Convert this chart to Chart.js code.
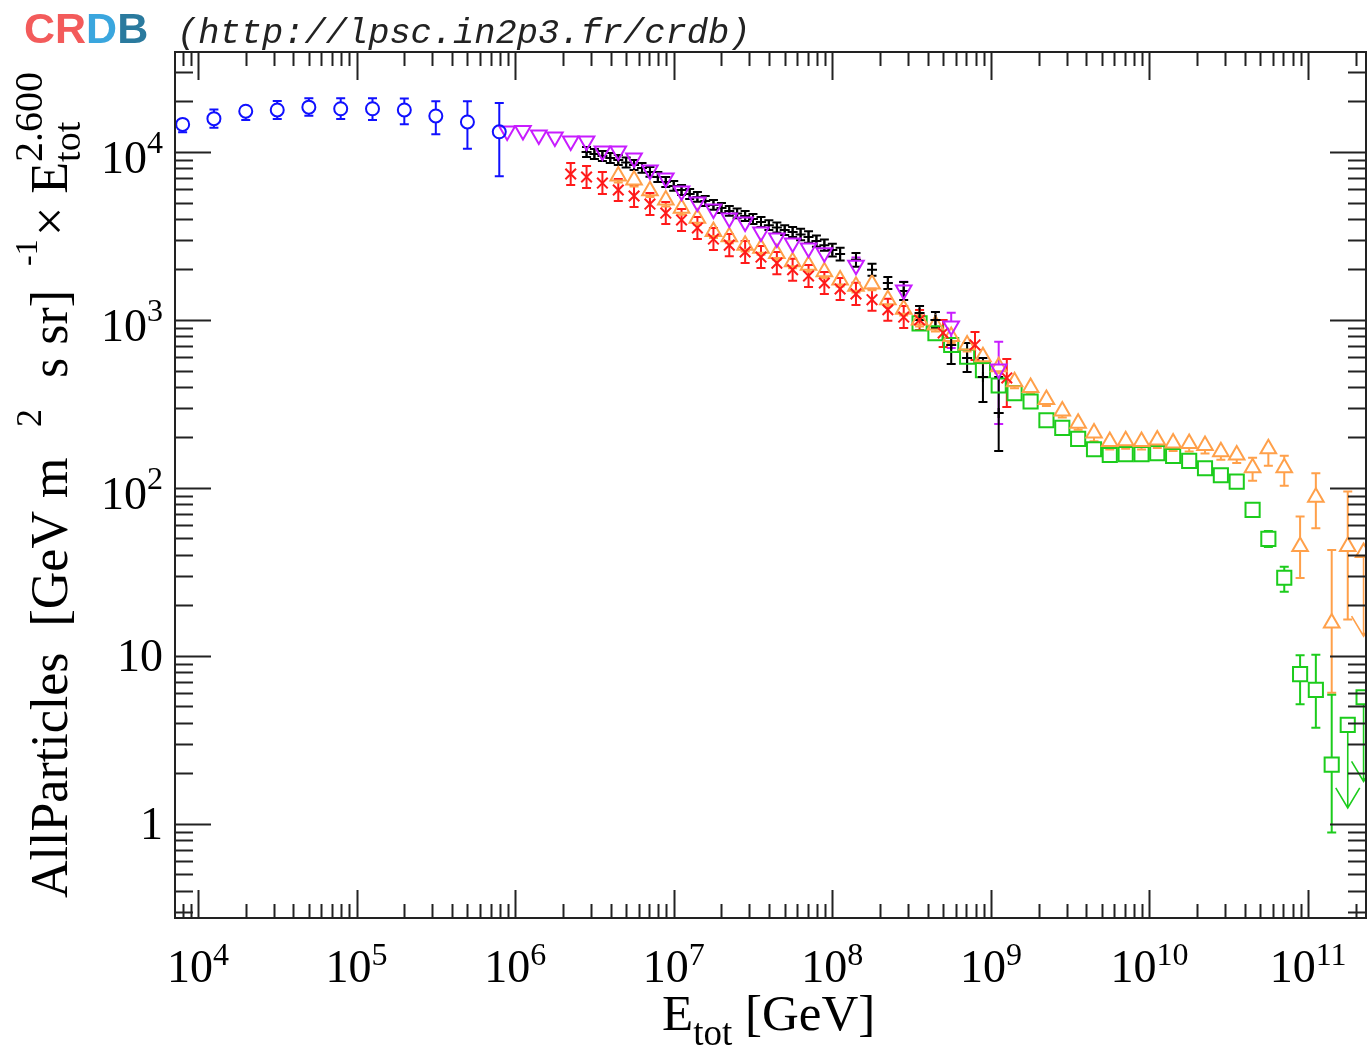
<!DOCTYPE html>
<html><head><meta charset="utf-8">
<script src="https://cdn.jsdelivr.net/npm/chart.js@4.4.1/dist/chart.umd.min.js"></script>
<style>html,body{margin:0;padding:0;background:#fff;overflow:hidden}canvas{display:block}</style>
</head><body>
<canvas id="c" width="1367" height="1047"></canvas>
<script>
// ---------------- data ----------------
const blueX = [8.0e3, 1.26e4, 2.0e4, 3.16e4, 5.0e4, 7.94e4, 1.26e5, 2.0e5, 3.16e5, 5.0e5, 7.94e5];
const blueY = [1.46e4, 1.58e4, 1.75e4, 1.78e4, 1.85e4, 1.81e4, 1.81e4, 1.78e4, 1.64e4, 1.51e4, 1.32e4];
const blueErrUp = [0.096, 0.133, 0.099, 0.130, 0.128, 0.153, 0.153, 0.172, 0.222, 0.327, 0.483];
const blueErrDn = [0.103, 0.117, 0.114, 0.117, 0.111, 0.131, 0.143, 0.179, 0.223, 0.307, 0.457];

const magX = [8.9e5, 1.12e6, 1.41e6, 1.78e6, 2.24e6, 2.82e6, 3.55e6, 4.47e6, 5.62e6, 7.08e6, 8.91e6, 1.12e7, 1.41e7, 1.78e7, 2.24e7, 2.82e7, 3.55e7, 4.47e7, 5.62e7, 7.08e7, 8.91e7, 1.41e8, 2.82e8, 5.62e8, 1.12e9];
const magY = [1.334e4, 1.343e4, 1.262e4, 1.228e4, 1.162e4, 1.162e4, 1.014e4, 1.014e4, 9.21e3, 7.81e3, 7.00e3, 5.86e3, 5.04e3, 4.58e3, 4.05e3, 3.83e3, 3.34e3, 3.08e3, 2.87e3, 2.68e3, 2.51e3, 2.12e3, 1.51e3, 921, 511];
const magErrUp = [0.056, 0.056, 0.056, 0.056, 0.056, 0.056, 0.056, 0.056, 0.056, 0.056, 0.056, 0.056, 0.056, 0.056, 0.056, 0.056, 0.056, 0.056, 0.056, 0.056, 0.056, 0.11, 0.12, 0.20, 0.45];
const magErrDn = [0.053, 0.053, 0.053, 0.053, 0.053, 0.053, 0.053, 0.053, 0.053, 0.053, 0.053, 0.053, 0.053, 0.053, 0.053, 0.053, 0.053, 0.053, 0.053, 0.053, 0.053, 0.10, 0.12, 0.26, 0.53];

const blackX = [2.82e6, 3.16e6, 3.55e6, 3.98e6, 4.47e6, 5.01e6, 5.62e6, 6.31e6, 7.08e6, 7.94e6, 8.91e6, 1.0e7, 1.12e7, 1.26e7, 1.41e7, 1.58e7, 1.78e7, 2.0e7, 2.24e7, 2.51e7, 2.82e7, 3.16e7, 3.55e7, 3.98e7, 4.47e7, 5.01e7, 5.62e7, 6.31e7, 7.08e7, 7.94e7, 8.91e7, 1.0e8, 1.12e8, 1.41e8, 1.78e8, 2.24e8, 2.82e8, 3.55e8, 4.47e8, 5.62e8, 7.08e8, 8.91e8, 1.12e9];
const blackY = [1.0e4, 9.73e3, 9.47e3, 9.21e3, 8.96e3, 8.66e3, 8.37e3, 8.04e3, 7.61e3, 7.10e3, 6.63e3, 6.28e3, 5.94e3, 5.62e3, 5.40e3, 5.11e3, 4.84e3, 4.64e3, 4.46e3, 4.31e3, 4.16e3, 3.99e3, 3.83e3, 3.67e3, 3.55e3, 3.43e3, 3.34e3, 3.23e3, 3.12e3, 2.95e3, 2.79e3, 2.61e3, 2.47e3, 2.28e3, 1.99e3, 1.66e3, 1.49e3, 1.10e3, 1.0e3, 710, 594, 458, 279];
const blackErrUp = [0.07, 0.07, 0.07, 0.07, 0.07, 0.07, 0.07, 0.07, 0.07, 0.07, 0.07, 0.07, 0.07, 0.07, 0.07, 0.07, 0.07, 0.07, 0.07, 0.07, 0.07, 0.07, 0.07, 0.07, 0.07, 0.07, 0.07, 0.08, 0.08, 0.08, 0.08, 0.09, 0.09, 0.10, 0.086, 0.086, 0.13, 0.10, 0.116, 0.10, 0.228, 0.297, 0.638];
const blackErrDn = [0.065, 0.065, 0.065, 0.065, 0.065, 0.065, 0.065, 0.065, 0.065, 0.065, 0.065, 0.065, 0.065, 0.065, 0.065, 0.065, 0.065, 0.065, 0.065, 0.065, 0.065, 0.065, 0.065, 0.065, 0.065, 0.065, 0.065, 0.075, 0.075, 0.075, 0.075, 0.085, 0.085, 0.09, 0.079, 0.079, 0.116, 0.092, 0.104, 0.229, 0.175, 0.29, 0.406];

const redX = [2.24e6, 2.82e6, 3.55e6, 4.47e6, 5.62e6, 7.08e6, 8.91e6, 1.12e7, 1.41e7, 1.78e7, 2.24e7, 2.82e7, 3.55e7, 4.47e7, 5.62e7, 7.08e7, 8.91e7, 1.12e8, 1.41e8, 1.78e8, 2.24e8, 2.82e8, 3.55e8, 5.0e8, 7.94e8, 1.26e9];
const redY = [7.40e3, 7.10e3, 6.53e3, 5.94e3, 5.47e3, 4.90e3, 4.33e3, 3.94e3, 3.53e3, 3.03e3, 2.79e3, 2.54e3, 2.37e3, 2.18e3, 1.99e3, 1.83e3, 1.66e3, 1.53e3, 1.43e3, 1.32e3, 1.15e3, 1.04e3, 1.0e3, 837, 710, 452];
const redErrUp = [0.163, 0.163, 0.163, 0.163, 0.163, 0.163, 0.163, 0.163, 0.163, 0.163, 0.163, 0.163, 0.163, 0.163, 0.163, 0.163, 0.163, 0.163, 0.163, 0.163, 0.163, 0.163, 0.147, 0.195, 0.195, 0.297];
const redErrDn = [0.14, 0.14, 0.14, 0.14, 0.14, 0.14, 0.14, 0.14, 0.14, 0.14, 0.14, 0.14, 0.14, 0.14, 0.14, 0.14, 0.14, 0.14, 0.14, 0.14, 0.14, 0.14, 0.128, 0.175, 0.186, 0.328];

const orangeX = [4.47e6, 5.62e6, 7.08e6, 8.91e6, 1.12e7, 1.41e7, 1.78e7, 2.24e7, 2.82e7, 3.55e7, 4.47e7, 5.62e7, 7.08e7, 8.91e7, 1.12e8, 1.41e8, 1.78e8, 2.24e8, 2.82e8, 3.55e8, 4.47e8, 5.62e8, 7.08e8, 8.91e8, 1.12e9, 1.41e9, 1.78e9, 2.24e9, 2.82e9, 3.55e9, 4.47e9, 5.62e9, 7.08e9, 8.91e9, 1.12e10, 1.41e10, 1.78e10, 2.24e10, 2.82e10, 3.55e10, 4.47e10, 5.62e10, 7.08e10, 8.91e10, 1.12e11, 1.41e11, 1.78e11];
const orangeY = [7.20e3, 6.81e3, 5.89e3, 5.18e3, 4.62e3, 4.03e3, 3.36e3, 3.13e3, 2.79e3, 2.67e3, 2.49e3, 2.22e3, 2.12e3, 1.94e3, 1.73e3, 1.59e3, 1.64e3, 1.32e3, 1.16e3, 1.0e3, 934, 796, 710, 604, 527, 429, 396, 336, 287, 243, 212, 189, 191, 189, 193, 185, 184, 179, 164, 157, 132, 171, 132, 44.8, 88.1, 15.7, 44.8];
const orangeErrUp = [0.09, 0.09, 0.09, 0.09, 0.09, 0.09, 0.09, 0.09, 0.09, 0.09, 0.09, 0.09, 0.09, 0.09, 0.09, 0.09, 0.09, 0.09, 0.09, 0.09, 0.09, 0.09, 0.09, 0.09, 0.09, 0.09, 0.09, 0.09, 0.09, 0.09, 0.10, 0.116, 0.116, 0.116, 0.116, 0.116, 0.116, 0.116, 0.116, 0.116, 0.147, 0.131, 0.179, 0.509, 0.389, 1.72, 1.125];
const orangeErrDn = [0.085, 0.085, 0.085, 0.085, 0.085, 0.085, 0.085, 0.085, 0.085, 0.085, 0.085, 0.085, 0.085, 0.085, 0.085, 0.085, 0.085, 0.085, 0.085, 0.085, 0.085, 0.085, 0.085, 0.085, 0.085, 0.085, 0.085, 0.085, 0.085, 0.085, 0.104, 0.104, 0.104, 0.104, 0.104, 0.104, 0.104, 0.104, 0.104, 0.104, 0.163, 0.208, 0.219, 0.351, 0.346, 0.616, 0.632];
const orangeLimX = [2.24e11];
const orangeLimY = [41.2];
const orangeLimTo = [13.1];

const greenX = [3.55e8, 4.47e8, 5.62e8, 7.08e8, 8.91e8, 1.12e9, 1.41e9, 1.78e9, 2.24e9, 2.82e9, 3.55e9, 4.47e9, 5.62e9, 7.08e9, 8.91e9, 1.12e10, 1.41e10, 1.78e10, 2.24e10, 2.82e10, 3.55e10, 4.47e10, 5.62e10, 7.08e10, 8.91e10, 1.12e11, 1.41e11];
const greenY = [955, 833, 710, 604, 503, 407, 367, 327, 253, 228, 196, 170, 157, 159, 159, 161, 155, 145, 131, 119, 109, 74, 49.7, 29.2, 7.78, 6.28, 2.25];
const greenErrUp = [0.03, 0.03, 0.03, 0.03, 0.03, 0.03, 0.03, 0.03, 0.03, 0.03, 0.03, 0.03, 0.03, 0.03, 0.03, 0.03, 0.03, 0.03, 0.03, 0.03, 0.03, 0.042, 0.116, 0.163, 0.297, 0.615, 1.61];
const greenErrDn = [0.03, 0.03, 0.03, 0.03, 0.03, 0.03, 0.03, 0.03, 0.03, 0.03, 0.03, 0.03, 0.03, 0.03, 0.03, 0.03, 0.03, 0.03, 0.03, 0.03, 0.03, 0.04, 0.104, 0.175, 0.337, 0.406, 0.606];
const greenLimX = [1.78e11, 2.24e11];
const greenLimY = [3.88, 5.67];
const greenLimTo = [1.245, 1.79];

const xDecadeLabels = [4, 5, 6, 7, 8, 9, 10, 11];
const yTickLabels = [{v: 1e4, b: '10', e: '4'}, {v: 1e3, b: '10', e: '3'}, {v: 1e2, b: '10', e: '2'}, {v: 10, b: '10', e: ''}, {v: 1, b: '1', e: ''}];

// ---------------- helpers ----------------
const pts = (xs, ys, up, dn) => xs.map((x, i) => ({x: x, y: ys[i], hi: ys[i] * (1 + up[i]), lo: ys[i] * (1 - dn[i])}));
const limPts = (xs, ys, to) => xs.map((x, i) => ({x: x, y: ys[i], to: to[i]}));

const C_BLUE = '#1010ff', C_MAG = '#c81cff', C_BLK = '#000000', C_RED = '#ff1a1a', C_ORG = '#ffa04a', C_GRN = '#1ccc1c';

function ds(data, color, style, radius, gapT, gapB, extra) {
  return Object.assign({
    data: data, showLine: false, borderColor: color, backgroundColor: 'rgba(0,0,0,0)',
    pointStyle: style, pointRadius: radius, pointBorderWidth: 2, pointHoverRadius: radius,
    errColor: color, gapT: gapT, gapB: gapB
  }, extra || {});
}

const datasets = [
  ds(pts(blueX, blueY, blueErrUp, blueErrDn), C_BLUE, 'circle', 6.5, 6.5, 6.5),
  ds(pts(magX, magY, magErrUp, magErrDn), C_MAG, 'triangle', 9, 4.5, 9, {pointRotation: 180}),
  ds(pts(blackX, blackY, blackErrUp, blackErrDn), C_BLK, 'cross', 5, 0, 0),
  ds(pts(redX, redY, redErrUp, redErrDn), C_RED, 'crossRot', 7.5, 0, 0),
  ds(pts(orangeX, orangeY, orangeErrUp, orangeErrDn), C_ORG, 'triangle', 9, 9, 4.5),
  ds(limPts(orangeLimX, orangeLimY, orangeLimTo), C_ORG, 'triangle', 9, 9, 4.5, {limit: true}),
  ds(pts(greenX, greenY, greenErrUp, greenErrDn), C_GRN, 'rect', 10, 7, 7),
  ds(limPts(greenLimX, greenLimY, greenLimTo), C_GRN, 'rect', 10, 7, 7, {limit: true})
];

const X_MIN = 7.16e3, X_MAX = 2.32e11, Y_MIN = 0.275, Y_MAX = 3.94e4;

const errPlugin = {
  id: 'errbars',
  beforeDatasetsDraw(chart) {
    const ctx = chart.ctx, xs = chart.scales.x, ys = chart.scales.y, ca = chart.chartArea;
    ctx.save();
    ctx.beginPath(); ctx.rect(ca.left, ca.top, ca.right - ca.left, ca.bottom - ca.top); ctx.clip();
    chart.data.datasets.forEach(d => {
      ctx.strokeStyle = d.errColor; ctx.lineCap = 'butt';
      d.data.forEach(p => {
        const px = xs.getPixelForValue(p.x), py = ys.getPixelForValue(p.y);
        ctx.beginPath();
        if (d.limit) {
          const pe = ys.getPixelForValue(p.to);
          ctx.moveTo(px, py + d.gapB); ctx.lineTo(px, pe);
          ctx.moveTo(px - 12, pe - 20); ctx.lineTo(px, pe); ctx.lineTo(px + 12, pe - 20);
          ctx.lineWidth = 1.6;
          ctx.stroke();
          return;
        }
        ctx.lineWidth = 2;
        const pt = ys.getPixelForValue(p.hi), pb = ys.getPixelForValue(p.lo);
        const cw = 4.5;
        if (pt < py - d.gapT - 0.5) {
          ctx.moveTo(px, py - d.gapT); ctx.lineTo(px, pt);
          ctx.moveTo(px - cw, pt); ctx.lineTo(px + cw, pt);
        }
        if (pb > py + d.gapB + 0.5) {
          ctx.moveTo(px, py + d.gapB); ctx.lineTo(px, pb);
          ctx.moveTo(px - cw, pb); ctx.lineTo(px + cw, pb);
        }
        ctx.stroke();
      });
    });
    ctx.restore();
  }
};

function powLabel(ctx, base, exp, x, baseY, align, raise) {
  ctx.font = '46px "Liberation Serif"';
  const w1 = ctx.measureText(base).width;
  ctx.font = '32px "Liberation Serif"';
  const w2 = exp ? ctx.measureText(exp).width : 0;
  const W = w1 + w2;
  const x0 = align === 'center' ? x - W / 2 : x - W;
  ctx.textAlign = 'left'; ctx.textBaseline = 'alphabetic';
  ctx.font = '46px "Liberation Serif"';
  ctx.fillText(base, x0, baseY);
  if (exp) { ctx.font = '32px "Liberation Serif"'; ctx.fillText(exp, x0 + w1, baseY - raise); }
}

const framePlugin = {
  id: 'frame',
  afterDraw(chart) {
    const ctx = chart.ctx, xs = chart.scales.x, ys = chart.scales.y, ca = chart.chartArea;
    ctx.save();
    ctx.strokeStyle = '#222'; ctx.lineWidth = 2; ctx.fillStyle = '#000';
    // ticks
    ctx.beginPath();
    for (let d = 3; d <= 11; d++) {
      for (let m = 1; m <= 9; m++) {
        const v = m * Math.pow(10, d);
        if (v < X_MIN || v > X_MAX) continue;
        const px = Math.round(xs.getPixelForValue(v)) + 0.5;
        const L = m === 1 ? 28 : 14;
        ctx.moveTo(px, ca.bottom); ctx.lineTo(px, ca.bottom - L);
        ctx.moveTo(px, ca.top); ctx.lineTo(px, ca.top + L);
      }
    }
    for (let d = -1; d <= 4; d++) {
      for (let m = 1; m <= 9; m++) {
        const v = m * Math.pow(10, d);
        if (v < Y_MIN || v > Y_MAX) continue;
        const py = Math.round(ys.getPixelForValue(v)) + 0.5;
        const L = m === 1 ? 36 : 18;
        ctx.moveTo(ca.left, py); ctx.lineTo(ca.left + L, py);
        ctx.moveTo(ca.right, py); ctx.lineTo(ca.right - L, py);
      }
    }
    ctx.stroke();
    ctx.strokeRect(ca.left, ca.top, ca.right - ca.left, ca.bottom - ca.top);
    // tick labels
    ctx.fillStyle = '#000';
    xDecadeLabels.forEach(k => {
      const px = xs.getPixelForValue(Math.pow(10, k));
      powLabel(ctx, '10', String(k), px, 982, 'center', 17);
    });
    yTickLabels.forEach(t => {
      const py = ys.getPixelForValue(t.v);
      powLabel(ctx, t.b, t.e, 163, py + (t.e ? 21 : 15), 'right', 20);
    });
    // x title
    ctx.textAlign = 'left';
    ctx.font = '51px "Liberation Serif"';
    let x = 662;
    ctx.fillText('E', x, 1030); x += ctx.measureText('E').width;
    ctx.font = '37px "Liberation Serif"';
    ctx.fillText('tot', x, 1045); x += ctx.measureText('tot').width;
    ctx.font = '51px "Liberation Serif"';
    ctx.fillText(' [GeV]', x, 1030);
    // y title (rotated)
    ctx.save();
    ctx.translate(67, 0);
    ctx.rotate(-Math.PI / 2);
    const piece = (t, size, start, dy) => { ctx.font = size + 'px "Liberation Serif"'; ctx.fillText(t, -start, dy); return ctx.measureText(t).width; };
    piece('AllParticles  [GeV m', 52, 898, 0);
    piece('2', 36, 427, -26);
    piece('s sr]', 52, 378, 0);
    piece('-1', 32, 266, -30);
    const w = piece('\u00d7 E', 52, 236, 0);
    piece('tot', 38, 236 - w, 13);
    piece('2.600', 40, 236 - w, -25);
    ctx.restore();
    // header
    ctx.font = 'bold 43px "Liberation Sans"';
    let hx = 24;
    [['C', '#f35b5b'], ['R', '#f35b5b'], ['D', '#3aa6de'], ['B', '#2a7a9e']].forEach(([ch, col]) => {
      ctx.fillStyle = col; ctx.fillText(ch, hx, 43); hx += ctx.measureText(ch).width;
    });
    ctx.fillStyle = '#222';
    ctx.font = 'italic 35.4px "Liberation Mono"';
    ctx.fillText('(http://lpsc.in2p3.fr/crdb)', 177, 43);
    ctx.restore();
  }
};

new Chart(document.getElementById('c'), {
  type: 'scatter',
  data: {datasets: datasets},
  options: {
    responsive: false, animation: false, events: [],
    layout: {autoPadding: false, padding: {left: 175, top: 52, right: 1, bottom: 129}},
    plugins: {legend: {display: false}, tooltip: {enabled: false}},
    scales: {
      x: {type: 'logarithmic', min: X_MIN, max: X_MAX, display: false},
      y: {type: 'logarithmic', min: Y_MIN, max: Y_MAX, display: false}
    }
  },
  plugins: [errPlugin, framePlugin]
});
</script>
</body></html>
